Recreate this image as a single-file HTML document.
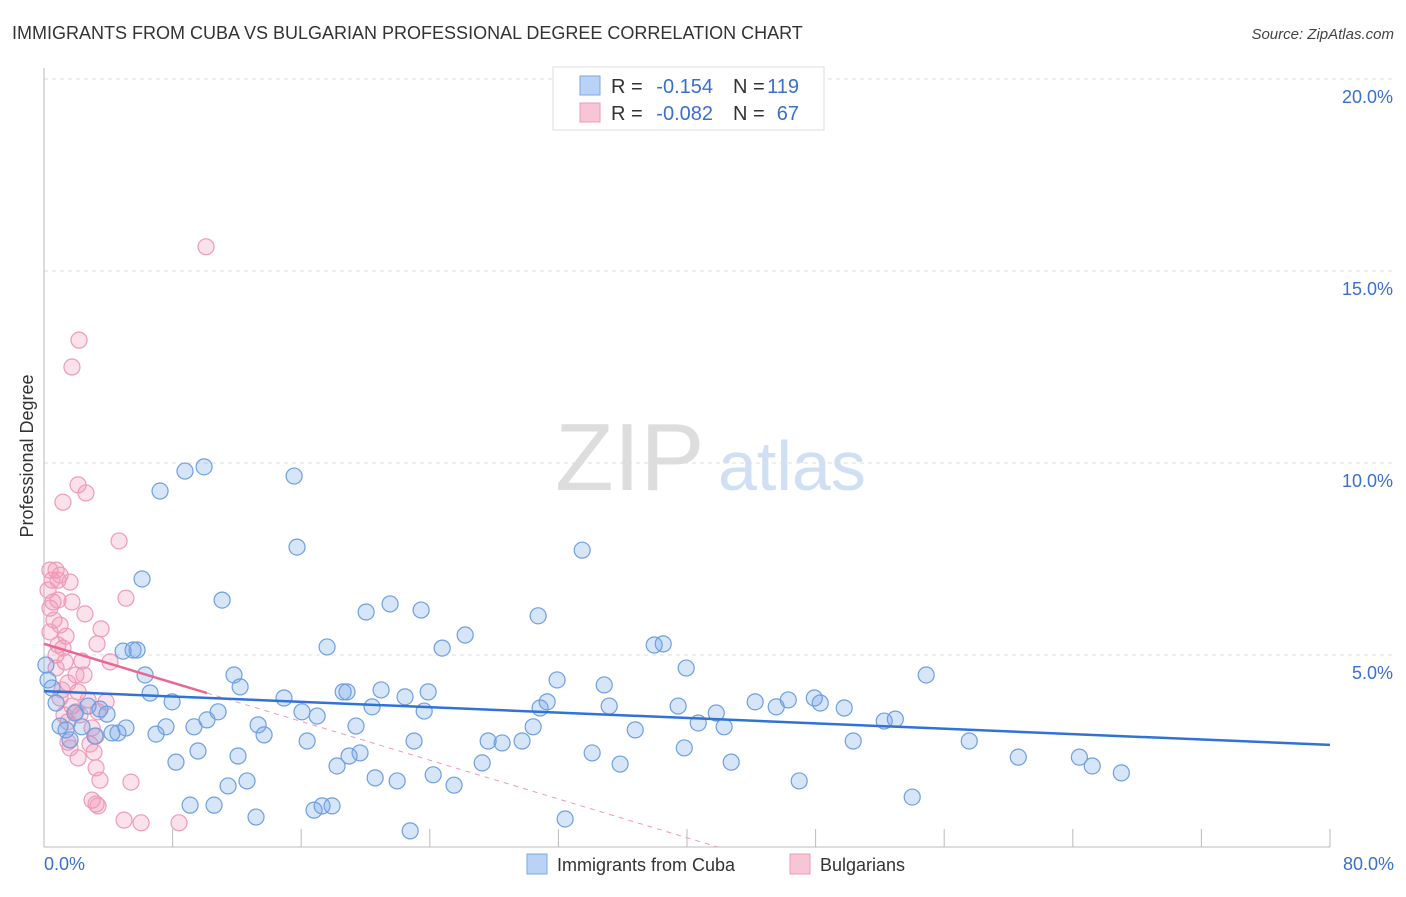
<!DOCTYPE html>
<html><head><meta charset="utf-8"><style>
body{margin:0;background:#fff;font-family:"Liberation Sans",sans-serif;}
svg text{font-family:"Liberation Sans",sans-serif;}
</style></head><body>
<svg id="chart" width="1406" height="892" xmlns="http://www.w3.org/2000/svg">
<text x="12" y="39" font-size="18" fill="#333">IMMIGRANTS FROM CUBA VS BULGARIAN PROFESSIONAL DEGREE CORRELATION CHART</text>
<text x="1394" y="39" font-size="15" fill="#444" text-anchor="end" font-style="italic">Source: ZipAtlas.com</text>
<text transform="translate(33,456) rotate(-90)" font-size="18" fill="#333" text-anchor="middle">Professional Degree</text>
<g><text x="555" y="490" font-size="96" fill="#ddd" font-family="Liberation Serif">ZIP</text><text x="718" y="490" font-size="70" fill="#cfe0f5">atlas</text></g>
<g id="grid"></g><g id="marks"></g>
<g>
<rect x="553" y="67" width="271" height="63" fill="#fff" stroke="#ddd"/>
<rect x="580" y="76" width="20" height="19" fill="#b8d3f5" stroke="#7aa7e4"/>
<rect x="580" y="103" width="20" height="19" fill="#f8c5d5" stroke="#ee9ab6"/>
<text x="611" y="93" font-size="20" fill="#333">R =</text>
<text x="713" y="93" font-size="20" fill="#3a6fd0" text-anchor="end">-0.154</text>
<text x="733" y="93" font-size="20" fill="#333">N =</text>
<text x="799" y="93" font-size="20" fill="#3a6fd0" text-anchor="end">119</text>
<text x="611" y="120" font-size="20" fill="#333">R =</text>
<text x="713" y="120" font-size="20" fill="#3a6fd0" text-anchor="end">-0.082</text>
<text x="733" y="120" font-size="20" fill="#333">N =</text>
<text x="799" y="120" font-size="20" fill="#3a6fd0" text-anchor="end">67</text>
</g>
<g>
<rect x="527" y="854" width="20" height="20" fill="#b8d3f5" stroke="#7aa7e4"/>
<text x="557" y="871" font-size="18" fill="#333">Immigrants from Cuba</text>
<rect x="790" y="854" width="20" height="20" fill="#f8c5d5" stroke="#ee9ab6"/>
<text x="820" y="871" font-size="18" fill="#333">Bulgarians</text>
</g>
</svg>
<script>
const xTicks=[0,8,16,24,32,40,48,56,64,72,80];
const yTicks=[5,10,15,20];
const cubaX=[.5,.75,1,1.37,1.62,1.93,2.36,2.74,3.17,3.48,3.92,4.23,4.6,4.92,5.1,5.54,5.79,6.1,6.29,6.6,6.97,7.22,7.59,7.97,8.21,8.77,9.09,9.33,9.58,9.96,10.14,10.58,10.83,11.08,11.45,11.82,12.07,12.2,12.63,13.19,13.32,13.69,14.93,15.56,15.74,16.05,16.37,16.8,16.99,17.3,17.61,17.92,18.23,18.61,18.85,18.98,19.41,19.66,20.04,20.41,20.6,20.97,21.53,21.97,22.46,22.78,23.02,23.46,23.65,23.9,24.21,24.77,25.51,26.2,27.26,27.63,28.5,29.74,30.43,30.74,30.86,31.3,31.92,32.42,33.48,34.1,34.85,35.16,35.84,36.78,37.96,38.52,39.45,39.83,39.95,40.7,41.82,42.31,42.75,44.24,45.55,46.3,46.98,47.92,48.29,49.78,50.34,52.27,52.96,54.01,54.88,57.56,60.61,64.41,65.21,67.02,.12,.25];
const cubaY=[4.14,3.75,3.15,3.05,2.79,3.49,3.13,3.67,2.89,3.59,3.46,2.97,2.97,5.1,3.1,5.13,5.13,6.98,4.48,4.01,2.94,9.27,3.13,3.78,2.21,9.79,1.09,3.13,2.5,9.9,3.31,1.09,3.52,6.43,1.59,4.48,2.37,4.17,1.72,.78,3.18,2.92,3.88,9.66,7.81,3.52,2.76,.96,3.41,1.07,5.21,1.07,2.11,4.04,4.04,2.37,3.15,2.45,6.12,3.65,1.8,4.09,6.33,1.72,3.91,.42,2.76,6.17,3.54,4.04,1.88,5.18,1.61,5.52,2.19,2.76,2.71,2.76,3.13,6.02,3.62,3.78,4.35,.73,7.73,2.45,4.22,3.67,2.16,3.05,5.26,5.29,3.67,2.58,4.66,3.23,3.49,3.13,2.21,3.78,3.65,3.83,1.72,3.88,3.75,3.62,2.76,3.28,3.33,1.3,4.48,2.76,2.34,2.34,2.11,1.93,4.74,4.35];
const bulgX=[10.08,2.18,1.74,2.12,2.61,1.18,4.67,.37,.75,1,.5,1.62,.25,5.1,.87,1.74,.37,2.55,.62,1,1.37,.37,3.3,3.55,.87,1.18,.75,1.31,2.36,4.11,1.99,2.49,1.49,2.12,1,3.86,2.74,1.74,1.99,1.24,2.24,3.36,1.49,2.99,3.24,1.49,1.62,2.86,2.12,3.11,3.24,3.48,5.41,2.99,3.24,3.36,4.98,6.04,8.4,.75,1.12,.56,.87];
const bulgY=[15.63,13.2,12.5,9.43,9.22,8.98,7.97,7.21,7.21,7.08,6.95,6.9,6.69,6.48,6.43,6.38,6.22,6.07,5.91,5.78,5.49,5.6,5.29,5.68,5.26,5.18,5,4.82,4.84,4.82,4.48,4.48,4.27,4.04,3.88,3.78,3.83,3.67,3.52,3.44,3.44,3.52,3.26,3.1,2.89,2.73,2.58,2.68,2.32,2.47,2.06,1.74,1.69,1.22,1.12,1.07,.7,.63,.63,4.66,4.09,6.38,6.95];
const cubaTrend=[4.06,2.66];
const bulgTrend=[5.29,4.01];
const bulgSolidEnd=10.14;
const NS='http://www.w3.org/2000/svg';
const X=v=>44+v*16.075, Y=v=>847-v*38.4;
function mk(tag,attrs,parent){const e=document.createElementNS(NS,tag);for(const k in attrs)e.setAttribute(k,attrs[k]);parent.appendChild(e);return e;}
const grid=document.getElementById('grid'), marks=document.getElementById('marks');
yTicks.forEach(t=>{
 const l=mk('line',{x1:44,x2:1394,y1:Y(t),y2:Y(t),stroke:'#ddd','stroke-dasharray':'4,4'},grid);
 
 
 const tx=mk('text',{x:1393,y:Y(t)+24,'font-size':18,fill:'#3a6fd0','text-anchor':'end'},grid);tx.textContent=t.toFixed(1)+'%';
 
 
});
const ax=mk('line',{x1:44,x2:44,y1:68,y2:847,stroke:'#bbb'},grid);


const bx=mk('line',{x1:44,x2:1330,y1:847,y2:847,stroke:'#bbb'},grid);


xTicks.forEach(t=>{
 const l=mk('line',{x1:X(t),x2:X(t),y1:829,y2:847,stroke:'#bbb'},grid);
 
 
});
[[0,'0.0%','start',44],[80,'80.0%','end',1394]].forEach(([t,s,a,px])=>{
 const tx=mk('text',{x:px,y:870,'font-size':18,fill:'#3a6fd0','text-anchor':a},grid);tx.textContent=s;
 
 
});
bulgX.forEach((v,i)=>{
 const c=mk('circle',{cx:X(v),cy:Y(bulgY[i]),r:8,fill:'rgba(242,150,180,0.28)',stroke:'#ef9ab8','stroke-width':1.2},marks);
 
 
});
cubaX.forEach((v,i)=>{
 const c=mk('circle',{cx:X(v),cy:Y(cubaY[i]),r:8,fill:'rgba(110,160,230,0.28)',stroke:'#6e9fe0','stroke-width':1.2},marks);
 
 
});
const slope=(bulgTrend[1]-bulgTrend[0])/bulgSolidEnd, zeroX=-bulgTrend[0]/slope;
const pd=mk('line',{x1:X(bulgSolidEnd),y1:Y(bulgTrend[1]),x2:X(zeroX),y2:Y(0),stroke:'#ee9ab6','stroke-dasharray':'5,5','stroke-width':1},marks);


const pl=mk('line',{x1:X(0),y1:Y(bulgTrend[0]),x2:X(bulgSolidEnd),y2:Y(bulgTrend[1]),stroke:'#e8688f','stroke-width':2.5},marks);


const bl=mk('line',{x1:X(0),y1:Y(cubaTrend[0]),x2:X(80),y2:Y(cubaTrend[1]),stroke:'#2f73d6','stroke-width':2.5},marks);


</script>
</body></html>
